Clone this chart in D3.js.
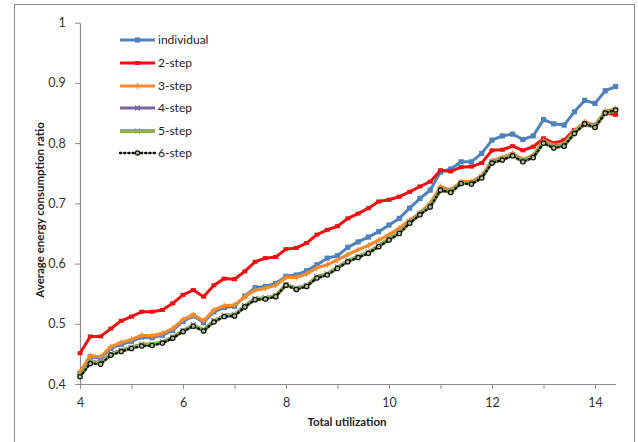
<!DOCTYPE html>
<html><head><meta charset="utf-8">
<script src="https://cdn.jsdelivr.net/npm/d3@7"></script>
<style>body{margin:0;background:#fff}svg{display:block}text{font-family:Lato,"Open Sans",sans-serif}</style>
</head><body><svg id="c" width="638" height="442"></svg>
<script>
const xValues = [4.0,4.2,4.4,4.6,4.8,5.0,5.2,5.4,5.6,5.8,6.0,6.2,6.4,6.6,6.8,7.0,7.2,7.4,7.6,7.8,8.0,8.2,8.4,8.6,8.8,9.0,9.2,9.4,9.6,9.8,10.0,10.2,10.4,10.6,10.8,11.0,11.2,11.4,11.6,11.8,12.0,12.2,12.4,12.6,12.8,13.0,13.2,13.4,13.6,13.8,14.0,14.2,14.4];
const individual = [0.418,0.445,0.443,0.459,0.466, 0.471,0.478,0.477,0.481,0.489, 0.504,0.513,0.502,0.520,0.527, 0.529,0.546,0.560,0.562,0.567, 0.579,0.581,0.588,0.598,0.609, 0.613,0.627,0.636,0.644,0.653, 0.664,0.675,0.692,0.708,0.722, 0.752,0.757,0.769,0.769,0.783, 0.805,0.812,0.815,0.806,0.812, 0.839,0.832,0.830,0.852,0.871, 0.866,0.887,0.894];
const step2 = [0.451,0.479,0.479,0.492,0.505, 0.512,0.520,0.520,0.523,0.534, 0.548,0.556,0.545,0.564,0.575, 0.574,0.587,0.603,0.609,0.611, 0.624,0.626,0.634,0.648,0.656, 0.662,0.675,0.683,0.692,0.703, 0.706,0.711,0.719,0.728,0.736, 0.755,0.753,0.760,0.761,0.767, 0.788,0.789,0.795,0.788,0.794, 0.808,0.800,0.805,0.822,0.830, 0.827,0.850,0.847];
const step3 = [0.420,0.447,0.445,0.462,0.469, 0.474,0.481,0.480,0.484,0.492, 0.507,0.515,0.505,0.523,0.530, 0.531,0.545,0.556,0.559,0.564, 0.577,0.577,0.583,0.593,0.598, 0.606,0.615,0.623,0.630,0.639, 0.648,0.659,0.672,0.684,0.700, 0.728,0.722,0.736,0.736,0.746, 0.771,0.776,0.783,0.773,0.780, 0.804,0.796,0.799,0.820,0.835, 0.830,0.853,0.857];
const step4 = [0.415,0.437,0.436,0.450,0.456, 0.461,0.466,0.466,0.470,0.478, 0.489,0.498,0.490,0.505,0.514, 0.515,0.530,0.542,0.543,0.547, 0.565,0.559,0.564,0.578,0.583, 0.594,0.605,0.612,0.619,0.630, 0.641,0.652,0.669,0.683,0.696, 0.723,0.720,0.734,0.734,0.744, 0.769,0.774,0.781,0.771,0.778, 0.801,0.794,0.797,0.818,0.833, 0.828,0.851,0.855];
const step5 = [0.414,0.436,0.435,0.449,0.455, 0.460,0.465,0.465,0.469,0.477, 0.488,0.497,0.489,0.504,0.513, 0.514,0.529,0.541,0.542,0.546, 0.565,0.558,0.563,0.577,0.582, 0.593,0.604,0.611,0.618,0.629, 0.640,0.651,0.668,0.682,0.695, 0.722,0.719,0.734,0.733,0.743, 0.768,0.773,0.780,0.770,0.777, 0.801,0.793,0.796,0.817,0.832, 0.827,0.850,0.855];
const step6 = [0.412,0.434,0.433,0.448,0.454, 0.459,0.463,0.464,0.468,0.476, 0.487,0.496,0.488,0.503,0.512, 0.513,0.528,0.540,0.541,0.545, 0.564,0.557,0.562,0.576,0.581, 0.592,0.603,0.610,0.617,0.628, 0.639,0.650,0.667,0.681,0.694, 0.722,0.718,0.733,0.732,0.742, 0.767,0.772,0.779,0.769,0.776, 0.800,0.792,0.795,0.816,0.832, 0.826,0.850,0.855];
const seriesNames = ["individual","2-step","3-step","4-step","5-step","6-step"];
const xTicks = [4,5,6,7,8,9,10,11,12,13,14];
const xTickLabels = ["4","","6","","8","","10","","12","","14"];
const yTicks = [0.4,0.5,0.6,0.7,0.8,0.9,1];
const yTickLabels = ["0.4","0.5","0.6","0.7","0.8","0.9","1"];

const series = [
  {name:seriesNames[0], values:individual, color:"#4F81BD", w:3, marker:"square"},
  {name:seriesNames[1], values:step2, color:"#EE1111", w:3, marker:"rect"},
  {name:seriesNames[2], values:step3, color:"#F58A2E", w:3.2, marker:"plus"},
  {name:seriesNames[3], values:step4, color:"#7E62A0", w:3, marker:"x"},
  {name:seriesNames[4], values:step5, color:"#8CB052", w:4, marker:"x"},
  {name:seriesNames[5], values:step6, color:"#111", w:2.4, marker:"circle", dash:"1.2,3"}
];

const svg = d3.select("#c");
svg.append("rect").attr("x",14.5).attr("y",4.5).attr("width",620).attr("height",440).attr("fill","#fff").attr("stroke","#8a8a8a").attr("stroke-width",1);

const x = d3.scaleLinear().domain([4,14.4]).range([80,615.6]);
const y = d3.scaleLinear().domain([0.4,1]).range([384,22.7]);

const xAxis = d3.axisBottom(x).tickValues(xTicks).tickFormat((d,i)=>xTickLabels[i]).tickSize(5).tickSizeOuter(0);
const gx = svg.append("g").attr("transform","translate(0,384)").call(xAxis);
const yAxis = d3.axisLeft(y).tickValues(yTicks).tickFormat((d,i)=>yTickLabels[i]).tickSize(5).tickSizeOuter(0);
const gy = svg.append("g").attr("transform","translate(80,0)").call(yAxis);
[gx,gy].forEach(g=>{
  g.select(".domain").attr("stroke","#8c8c8c").attr("stroke-width",1.2);
  g.selectAll(".tick line").attr("stroke","#8c8c8c");
  g.selectAll(".tick text").attr("fill","#333").attr("font-size","12.5px");
});
gx.selectAll(".tick text").attr("dy","1.2em");
gy.selectAll(".tick text").attr("dx","-0.5em");

svg.append("text").attr("x",347).attr("y",426).attr("text-anchor","middle").attr("font-size","11.5px").attr("font-weight","bold").attr("fill","#222").text("Total utilization");
svg.append("text").attr("transform","translate(44,210) rotate(-90)").attr("text-anchor","middle").attr("font-size","11.5px").attr("font-weight","bold").attr("fill","#222").text("Average energy consumption  ratio");

function drawMarker(g, type, cx, cy, color){
  if(type==="square") g.append("rect").attr("x",cx-2.6).attr("y",cy-2.6).attr("width",5.2).attr("height",5.2).attr("fill",color);
  else if(type==="rect") g.append("rect").attr("x",cx-2.5).attr("y",cy-2).attr("width",5).attr("height",4).attr("fill",color);
  else if(type==="plus") g.append("path").attr("d",`M${cx-3},${cy}H${cx+3}M${cx},${cy-3}V${cy+3}`).attr("stroke",color).attr("stroke-width",1.2);
  else if(type==="x") g.append("path").attr("d",`M${cx-2.5},${cy-2.5}L${cx+2.5},${cy+2.5}M${cx-2.5},${cy+2.5}L${cx+2.5},${cy-2.5}`).attr("stroke",color).attr("stroke-width",1.2);
  else if(type==="circle") g.append("circle").attr("cx",cx).attr("cy",cy).attr("r",2.2).attr("fill","#b8bba0").attr("stroke","#111").attr("stroke-width",1.2);
}

const line = d3.line().x((d,i)=>x(xValues[i])).y(d=>y(d));
series.forEach(s=>{
  const g = svg.append("g");
  g.append("path").attr("d",line(s.values)).attr("fill","none").attr("stroke",s.color).attr("stroke-width",s.w)
    .attr("stroke-linejoin","round").attr("stroke-dasharray",s.dash||null).attr("stroke-linecap",s.dash?"round":"butt");
  s.values.forEach((v,i)=>drawMarker(g,s.marker,x(xValues[i]),y(v),s.color));
});

const legendY = [40,63,86,108,131,153];
series.forEach((s,i)=>{
  const g = svg.append("g");
  const ly = legendY[i];
  g.append("line").attr("x1",120).attr("x2",155).attr("y1",ly).attr("y2",ly).attr("stroke",s.color).attr("stroke-width",s.w)
    .attr("stroke-dasharray",s.dash||null).attr("stroke-linecap",s.dash?"round":"butt");
  drawMarker(g,s.marker,137.5,ly,s.color);
  g.append("text").attr("x",158).attr("y",ly).attr("dy","0.35em").attr("font-size","12px").attr("fill","#222").text(s.name);
});
</script></body></html>
